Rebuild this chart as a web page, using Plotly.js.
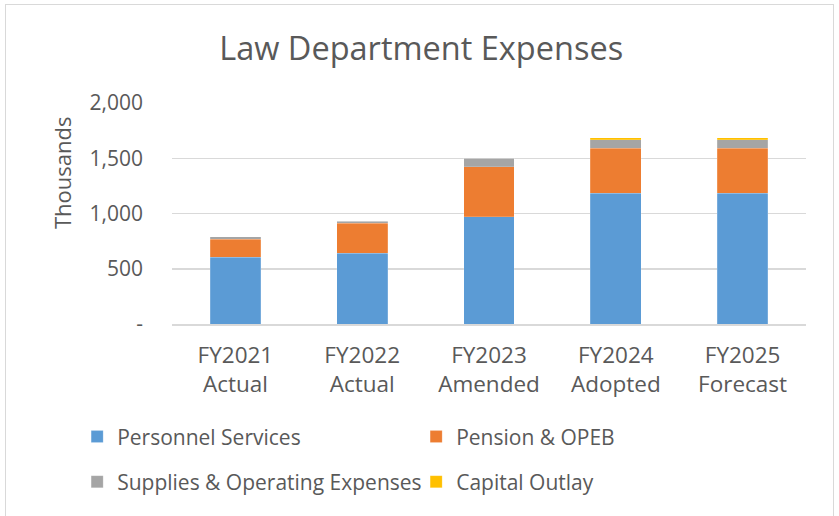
<!DOCTYPE html>
<html>
<head>
<meta charset="utf-8">
<script src="https://cdn.plot.ly/plotly-3.0.1.min.js"></script>
<style>
  html, body { margin: 0; padding: 0; background: #ffffff; }
  #wrap { position: relative; width: 839px; height: 516px; overflow: hidden; }
  #chart { width: 839px; height: 516px; }
  #frame { position: absolute; left: 5px; top: 4px; width: 829px; height: 530px;
           border: 1.5px solid #d9d9d9; pointer-events: none; box-sizing: border-box; }
</style>
</head>
<body>
<div id="wrap">
  <div id="chart"></div>
  <div id="frame"></div>
</div>
<script>
// ---- data (thousands) ----
const categories = ["FY2021<br>Actual", "FY2022<br>Actual", "FY2023<br>Amended", "FY2024<br>Adopted", "FY2025<br>Forecast"];
const personnelServices = [604, 640, 971, 1183, 1183];
const pensionOPEB = [163, 271, 453, 407, 407];
const suppliesOperating = [23, 18, 78, 78, 78];
const capitalOutlay = [0, 0, 0, 18, 18];
const yTickValues = [0, 500, 1000, 1500, 2000];
const yTickLabels = ["-", "500", "1,000", "1,500", "2,000"];

const FONT = "Open Sans, DejaVu Sans, sans-serif";
const TXT = "#595959";

function barTrace(name, values, color, legendId) {
  return {
    type: "bar",
    name: name,
    x: categories,
    y: values,
    marker: { color: color, line: { color: "rgba(255,255,255,0.35)", width: 0.5 } },
    legend: legendId,
    hoverinfo: "name+y"
  };
}

const traces = [
  barTrace("Personnel Services", personnelServices, "#5B9BD5", "legend"),
  barTrace("Pension & OPEB", pensionOPEB, "#ED7D31", "legend"),
  barTrace("Supplies & Operating Expenses", suppliesOperating, "#A5A5A5", "legend2"),
  barTrace("Capital Outlay", capitalOutlay, "#FFC000", "legend2")
];

const legendCommon = {
  orientation: "h",
  xanchor: "left",
  yanchor: "middle",
  x: -0.1496,
  entrywidth: 294,
  entrywidthmode: "pixels",
  font: { family: FONT, size: 21, color: TXT },
  bgcolor: "rgba(0,0,0,0)",
  traceorder: "normal"
};

const layout = {
  width: 839,
  height: 516,
  margin: { l: 172, r: 33, t: 103, b: 192 },
  paper_bgcolor: "#ffffff",
  plot_bgcolor: "#ffffff",
  barmode: "stack",
  bargap: 0.6,
  font: { family: FONT, color: TXT },
  title: {
    text: "Law Department Expenses",
    font: { family: FONT, size: 32.5, color: TXT },
    x: 0.502, xref: "container", xanchor: "center",
    y: 0.905, yref: "container", yanchor: "middle"
  },
  xaxis: {
    type: "category",
    tickfont: { family: FONT, size: 22.5, color: TXT },
    showgrid: false,
    showline: true,
    linecolor: "#d9d9d9",
    linewidth: 1.5,
    ticks: "",
    ticklabelstandoff: 10,
    fixedrange: true
  },
  yaxis: {
    range: [0, 2000],
    tickvals: yTickValues,
    ticktext: yTickLabels,
    tickfont: { family: FONT, size: 21, color: TXT },
    showgrid: true,
    gridcolor: "#d9d9d9",
    gridwidth: 1.5,
    zeroline: false,
    ticks: "",
    ticklabelstandoff: 28,
    fixedrange: true
  },
  annotations: [{
    text: "Thousands",
    textangle: -90,
    xref: "paper", yref: "paper",
    x: -0.1735, y: 0.683,
    xanchor: "center", yanchor: "middle",
    showarrow: false,
    font: { family: FONT, size: 22, color: TXT }
  }],
  legend: Object.assign({}, legendCommon, { y: -0.511 }),
  legend2: Object.assign({}, legendCommon, { y: -0.715 }),
  showlegend: true
};

Plotly.newPlot("chart", traces, layout, { displayModeBar: false, staticPlot: true });
</script>
</body>
</html>
